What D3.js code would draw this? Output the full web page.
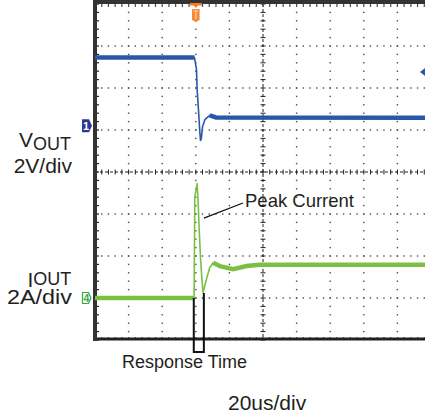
<!DOCTYPE html>
<html>
<head>
<meta charset="utf-8">
<script src="https://cdn.jsdelivr.net/npm/d3@7"></script>
<style>
  body { margin: 0; background: #fff; }
  svg { display: block; font-family: "Liberation Sans", Arial, sans-serif; }
</style>
</head>
<body>
<svg id="chart" width="425" height="419"></svg>
<script>
"use strict";

// horizontal: microseconds, 20us/div, trigger at 0
var timeDomain = [-60, 140];
// vertical: screen divisions
var divDomain = [-4, 4];

// channel 1 - output voltage, 2V/div, ground marker at +1.1 div
var voutTime  = [-60, -0.8, 0.4, 0.8, 1.6, 2.4, 2.8, 3.3, 4.0, 5.4, 8.3, 12, 140];
var voutVolts = [3.25, 3.25, 2.7, 1.7, 0.75, -0.3, -0.7, -0.6, -0.05, 0.29, 0.5, 0.4, 0.38];
var voutScale = 2, voutOffset = 1.1;

// channel 4 - output current, 2A/div, ground marker at -3 div
var ioutTime = [-60, -1.0, -0.6, 0.8, 1.4, 2.0, 2.8, 3.6, 4.3, 6.0, 8.3, 10.3, 14.3, 22.2, 30.2, 38, 140];
var ioutAmps = [0, 0, 4.8, 5.45, 4.55, 3.3, 1.9, 0.95, 0.25, 0.8, 1.45, 1.68, 1.52, 1.37, 1.52, 1.58, 1.58];
var ioutScale = 2, ioutOffset = -3;

// annotations
var responseTime = [-1.2, 4.8];      // us
var peakLabelAt = [4.8, 3.8];        // us, A (leader end on the trace)

var svg = d3.select("#chart");
var x = d3.scaleLinear().domain(timeDomain).range([95, 431]);
var y = d3.scaleLinear().domain(divDomain).range([340, 4]);
var ink = "#231f20", gridInk = "#4a4a4a";
var blue = "#2a58a8", green = "#7ac143";

var xDivs = d3.range(-60, 141, 20);
var yDivs = d3.range(-4, 5, 1);
var xMinor = d3.range(-60, 141, 4);
var yMinor = d3.range(-4, 4.01, 0.2);

// dotted grid
var grid = svg.append("g");
yDivs.filter(function (d) { return d > -4 && d < 4 && d !== 0; }).forEach(function (d) {
    grid.selectAll(null).data(xMinor.slice(1, -1)).enter().append("rect")
        .attr("x", function (t) { return x(t) - 0.7; }).attr("y", y(d) - 0.7)
        .attr("width", 1.4).attr("height", 1.4).attr("fill", gridInk);
});
xDivs.filter(function (t) { return t > -60 && t < 140 && t !== 40; }).forEach(function (t) {
    grid.selectAll(null).data(yMinor.slice(1, -1)).enter().append("rect")
        .attr("x", x(t) - 0.7).attr("y", function (d) { return y(d) - 0.7; })
        .attr("width", 1.4).attr("height", 1.4).attr("fill", gridInk);
});

// centre crosshair with minor ticks
grid.append("line").attr("x1", x(-60)).attr("x2", x(140)).attr("y1", y(0)).attr("y2", y(0))
    .attr("stroke", ink).attr("stroke-width", 1).attr("stroke-dasharray", "3,2");
grid.append("line").attr("x1", x(40)).attr("x2", x(40)).attr("y1", y(4)).attr("y2", y(-4))
    .attr("stroke", ink).attr("stroke-width", 1).attr("stroke-dasharray", "3,2");
grid.selectAll(null).data(xMinor).enter().append("line")
    .attr("x1", function (t) { return x(t); }).attr("x2", function (t) { return x(t); })
    .attr("y1", y(0) - 2.5).attr("y2", y(0) + 2.5).attr("stroke", ink).attr("stroke-width", 1);
grid.selectAll(null).data(yMinor).enter().append("line")
    .attr("y1", function (d) { return y(d); }).attr("y2", function (d) { return y(d); })
    .attr("x1", x(40) - 2.5).attr("x2", x(40) + 2.5).attr("stroke", ink).attr("stroke-width", 1);

// border ticks
grid.selectAll(null).data(xMinor).enter().append("line")
    .attr("x1", function (t) { return x(t); }).attr("x2", function (t) { return x(t); })
    .attr("y1", y(4)).attr("y2", y(4) + 3).attr("stroke", gridInk).attr("stroke-width", 1.2);
grid.selectAll(null).data(xMinor).enter().append("line")
    .attr("x1", function (t) { return x(t); }).attr("x2", function (t) { return x(t); })
    .attr("y1", y(-4)).attr("y2", y(-4) - 3).attr("stroke", gridInk).attr("stroke-width", 1.2);
grid.selectAll(null).data(yMinor).enter().append("line")
    .attr("y1", function (d) { return y(d); }).attr("y2", function (d) { return y(d); })
    .attr("x1", x(-60)).attr("x2", x(-60) + 4).attr("stroke", ink).attr("stroke-width", 1.2);

// screen frame
svg.append("line").attr("x1", x(-60)).attr("x2", 425).attr("y1", 2).attr("y2", 2)
    .attr("stroke", "#333").attr("stroke-width", 4);
svg.append("line").attr("x1", x(-60)).attr("x2", 425).attr("y1", 339).attr("y2", 339)
    .attr("stroke", "#222").attr("stroke-width", 3);
svg.append("line").attr("x1", x(-60)).attr("x2", x(-60)).attr("y1", 0).attr("y2", 341)
    .attr("stroke", "#333").attr("stroke-width", 4);

// traces
function trace(times, values, scale, offset, color, settleFrom, settleTo) {
    var pts = times.map(function (t, i) { return [t, values[i] / scale + offset]; });
    var line = d3.line().x(function (p) { return x(p[0]); }).y(function (p) { return y(p[1]); });
    svg.append("path").attr("d", line(pts)).attr("fill", "none")
        .attr("stroke", color).attr("stroke-width", 1.6).attr("stroke-linejoin", "round");
    // noise band on the steady parts
    [pts.filter(function (p) { return p[0] <= settleFrom; }),
     pts.filter(function (p) { return p[0] >= settleTo; })].forEach(function (seg) {
        svg.append("path").attr("d", line(seg)).attr("fill", "none")
            .attr("stroke", color).attr("stroke-width", 4.5);
    });
}
trace(voutTime, voutVolts, voutScale, voutOffset, blue, -0.8, 8.3);
trace(ioutTime, ioutAmps, ioutScale, ioutOffset, green, -1.0, 10.3);

// channel ground markers
var m1 = y(voutOffset);
svg.append("path").attr("d", "M82," + (m1 - 6.5) + "h7l3,6.5l-3,6.5h-7z").attr("fill", "#2b3990");
svg.append("text").attr("x", 86).attr("y", m1 + 4).attr("text-anchor", "middle")
    .attr("font-size", 11).attr("font-weight", "bold").attr("fill", "#fff").text("1");
var m4 = y(ioutOffset);
svg.append("path").attr("d", "M82.5," + (m4 - 5.5) + "h6l2.5,5.5l-2.5,5.5h-6z")
    .attr("fill", "#fff").attr("stroke", "#3aa845").attr("stroke-width", 1.2);
svg.append("text").attr("x", 86.5).attr("y", m4 + 4).attr("text-anchor", "middle")
    .attr("font-size", 10.5).attr("font-weight", "bold").attr("fill", "#3aa845").text("4");

// trigger marker
var tx = x(0);
svg.append("rect").attr("x", tx - 6).attr("y", 3).attr("width", 12).attr("height", 2.5).attr("fill", "#f47b20");
svg.append("path").attr("d", "M" + (tx - 3) + ",4l3,4l3,-4z").attr("fill", "#f47b20");
svg.append("path").attr("d", "M" + (tx - 3.8) + ",9h7.6v11l-3.8,2l-3.8,-2z").attr("fill", "#f58a3a");
svg.append("path").attr("d", "M" + (tx - 2.2) + ",11h4.4M" + tx + ",11v8")
    .attr("stroke", "#fbc79b").attr("stroke-width", 1.4);
svg.append("path").attr("d", "M425,68l-5,4l5,4z").attr("fill", blue);

// response time bracket
var rt0 = x(responseTime[0]), rt1 = x(responseTime[1]);
svg.append("path")
    .attr("d", "M" + rt0 + "," + y(ioutOffset) + "V352H" + rt1 + "V" + (y(ioutOffset) - 5))
    .attr("fill", "none").attr("stroke", "#111").attr("stroke-width", 2);

// peak current leader
svg.append("line").attr("x1", 243).attr("y1", 203)
    .attr("x2", x(peakLabelAt[0])).attr("y2", y(peakLabelAt[1] / ioutScale + ioutOffset))
    .attr("stroke", "#111").attr("stroke-width", 1.3);

// labels
function label(txt, lx, ly, size, anchor) {
    return svg.append("text").attr("x", lx).attr("y", ly).attr("font-size", size)
        .attr("text-anchor", anchor || "start").attr("fill", ink).text(txt);
}
var vLbl = label("V", 19, 147, 21);
vLbl.append("tspan").attr("dy", 3).attr("font-size", 18).text("OUT");
label("2V/div", 72, 173, 21, "end");
var iLbl = label("I", 27.5, 287, 21);
iLbl.append("tspan").attr("dy", -2).attr("font-size", 18).text("OUT");
label("2A/div", 72, 304, 20, "end").attr("textLength", 65).attr("lengthAdjust", "spacingAndGlyphs");
label("Peak Current", 245, 207, 18.5);
label("Response Time", 122, 368, 18);
label("20us/div", 228, 410, 21);
</script>
</body>
</html>
